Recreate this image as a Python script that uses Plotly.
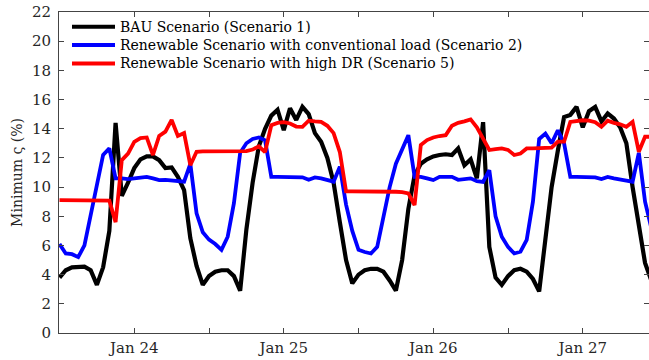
import pandas as pd
import plotly.graph_objects as go

# Hourly samples, Jan 23 12:00 -> Jan 27 11:00
time = pd.date_range("2019-01-23 12:00", periods=96, freq="h")

bau = [
    3.8, 4.3, 4.5, 4.55, 4.55, 4.3, 3.3, 4.5, 7.0, 14.4, 9.4, 10.3,
    11.3, 11.9, 12.1, 12.1, 11.85, 11.3, 11.35, 10.7, 9.8, 6.5, 4.6, 3.3,
    3.9, 4.2, 4.3, 4.3, 3.9, 2.9, 7.1, 10.3, 12.8, 14.0, 14.9, 15.3,
    13.9, 15.4, 14.6, 15.5, 15.0, 13.7, 13.1, 12.0, 10.3, 7.6, 5.0, 3.4,
    4.0, 4.3, 4.4, 4.4, 4.2, 3.6, 2.9, 5.0, 8.5, 10.8, 11.6, 11.9,
    12.1, 12.2, 12.25, 12.2, 12.65, 11.5, 11.9, 10.6, 14.45, 5.9, 3.8, 3.3,
    3.9, 4.3, 4.4, 4.2, 3.7, 2.85, 6.5, 10.0, 12.5, 14.8, 14.95, 15.5,
    14.1, 15.2, 15.5, 14.5, 15.05, 14.7, 14.1, 13.0, 10.0, 7.3, 4.8, 3.6,
]

renew_conventional = [
    6.1, 5.45, 5.4, 5.2, 6.0, 8.0, 10.2, 12.2, 12.65, 10.6, 10.6, 10.55,
    10.6, 10.67, 10.7, 10.6, 10.48, 10.5, 10.45, 10.4, 10.37, 11.6, 8.2, 6.9,
    6.4, 6.1, 5.7, 6.6, 8.9, 12.35, 13.0, 13.3, 13.4, 13.2, 10.7, 10.7,
    10.7, 10.68, 10.65, 10.67, 10.5, 10.66, 10.6, 10.5, 10.37, 11.4, 8.8, 7.0,
    5.7, 5.55, 5.45, 5.9, 8.0, 10.0, 11.6, 12.6, 13.56, 10.7, 10.7, 10.6,
    10.48, 10.7, 10.7, 10.7, 10.5, 10.55, 10.6, 10.4, 10.35, 11.16, 8.0, 6.6,
    5.9, 5.45, 5.57, 6.38, 9.0, 13.3, 13.67, 13.0, 13.9, 13.0, 10.7, 10.7,
    10.7, 10.7, 10.67, 10.55, 10.7, 10.6, 10.55, 10.45, 10.37, 12.35, 9.0, 7.2,
]

renew_high_dr = [
    9.1, 9.1, 9.08, 9.08, 9.07, 9.07, 9.07, 9.07, 9.07, 7.6, 11.85, 12.3,
    13.1, 13.35, 13.4, 12.2, 13.5, 13.8, 14.6, 13.5, 13.7, 11.5, 12.42, 12.45,
    12.45, 12.44, 12.44, 12.45, 12.45, 12.45, 12.46, 12.57, 12.8, 12.4, 14.24, 14.4,
    14.45, 14.36, 14.15, 14.13, 14.55, 14.5, 14.47, 14.2, 13.7, 12.4, 9.7, 9.7,
    9.7, 9.72, 9.72, 9.7, 9.7, 9.68, 9.68, 9.65, 9.57, 8.77, 12.88, 13.22,
    13.4, 13.5, 13.56, 14.2, 14.4, 14.5, 14.64, 14.1, 13.3, 12.54, 12.6, 12.65,
    12.55, 12.2, 12.3, 12.65, 12.65, 12.65, 12.65, 12.7, 13.11, 13.11, 14.47, 14.55,
    14.58, 14.55, 14.45, 14.13, 14.55, 14.4, 14.3, 14.13, 14.47, 12.42, 13.45, 13.45,
]

series_names = [
    "BAU Scenario (Scenario 1)",
    "Renewable Scenario with conventional load (Scenario 2)",
    "Renewable Scenario with high DR (Scenario 5)",
]
series_values = [bau, renew_conventional, renew_high_dr]
series_colors = ["#000000", "#0000ff", "#ff0000"]
series_widths = [4.2, 3.8, 3.8]

y_ticks = list(range(0, 23, 2))

W, H = 649, 360
L, R, T, B = 59, 0, 12, 27
plot_w, plot_h = W - L - R, H - T - B

FONT = "DejaVu Serif"
TEXT = "#262626"

fig = go.Figure()
for name, vals, col, lw in zip(series_names, series_values, series_colors, series_widths):
    fig.add_trace(go.Scatter(
        x=time, y=vals, name=name, mode="lines",
        line=dict(color=col, width=lw),
        showlegend=False,
    ))

# Legend block in the upper-left corner (pixel layout converted to paper units)
def px_x(px):
    return (px - L) / plot_w

def px_y(py):
    return (H - B - py) / plot_h

legend_rows = [26.8, 45.1, 63.4]
for name, col, row in zip(series_names, series_colors, legend_rows):
    fig.add_shape(type="line", xref="paper", yref="paper",
                  x0=px_x(72), x1=px_x(115), y0=px_y(row), y1=px_y(row),
                  line=dict(color=col, width=4))
    fig.add_annotation(x=px_x(119), y=px_y(row), xref="paper", yref="paper",
                       text=name, showarrow=False, xanchor="left", yanchor="middle",
                       borderpad=0,
                       font=dict(family=FONT, size=14, color="#000000"))

fig.update_layout(
    width=W, height=H,
    margin=dict(l=L, r=R, t=T, b=B, pad=0),
    paper_bgcolor="white", plot_bgcolor="white",
    font=dict(family=FONT, size=15, color=TEXT),
)

fig.update_xaxes(
    range=["2019-01-23 11:55", "2019-01-27 10:38"],
    tickformat="%b %d", dtick=86400000, tick0="2019-01-24",
    ticks="inside", ticklen=5, tickcolor="#444", tickwidth=1,
    minor=dict(dtick=43200000, tick0="2019-01-24", ticks="inside", ticklen=5,
               tickcolor="#444", showgrid=False),
    showline=True, linecolor="#444", linewidth=1, mirror="ticks",
    showgrid=False, zeroline=False,
    tickfont=dict(family=FONT, size=15, color=TEXT),
    ticklabelstandoff=1,
)

fig.update_yaxes(
    range=[0, 22], tickvals=y_ticks,
    ticks="inside", ticklen=5, tickcolor="#444", tickwidth=1,
    showline=True, linecolor="#444", linewidth=1, mirror="ticks",
    showgrid=False, zeroline=False,
    tickfont=dict(family=FONT, size=15, color=TEXT),
    ticklabelstandoff=4,
    title=dict(text="Minimum ς (%)", standoff=6,
               font=dict(family=FONT, size=14, color=TEXT)),
)

fig.write_html("out.html")
